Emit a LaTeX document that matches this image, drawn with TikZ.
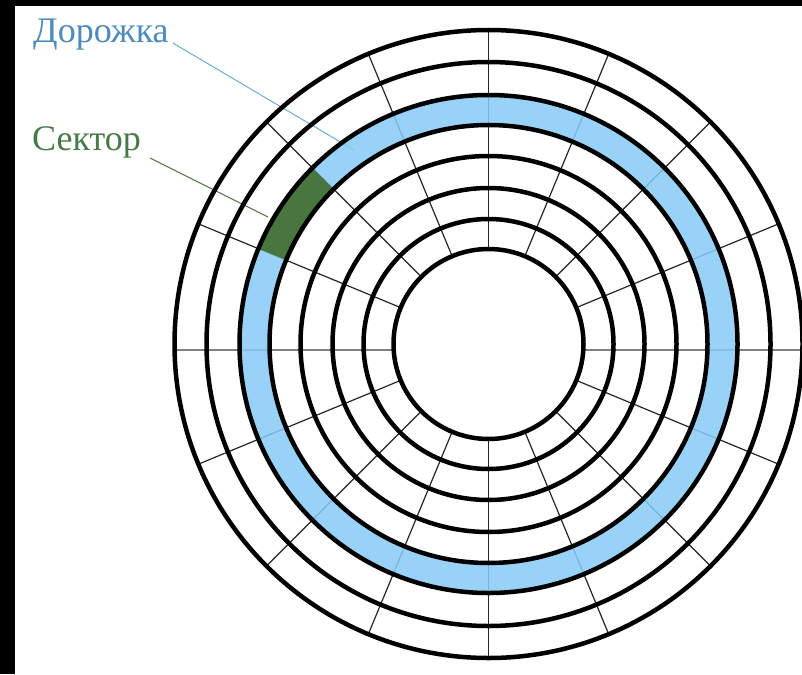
\documentclass[tikz,border=0pt]{standalone}
\usepackage{fontspec}
\setmainfont{Liberation Serif}
\usetikzlibrary{calc}

\definecolor{trackblue}{RGB}{135,203,245}
\definecolor{sectorgreen}{RGB}{72,118,62}
\definecolor{tracktext}{RGB}{78,138,188}
\definecolor{trackline}{RGB}{110,172,212}
\definecolor{sectortext}{RGB}{72,122,72}

\begin{document}
\begin{tikzpicture}[x=1pt, y=1pt,
    ring/.style={line width=4.5pt, black},
    spoke/.style={line width=1.2pt, black!85},
    axisline/.style={line width=2pt, gray},
    disklbl/.style={font=\fontsize{36pt}{42pt}\selectfont, inner sep=0pt, anchor=base west}]

    % Define the frame
    \useasboundingbox (0,0) rectangle (802,-674);
    \fill[black] (0,0) rectangle (802,-674);
    \fill[white] (15,-6) rectangle (802,-674);

    % Define the points
    \coordinate (O) at (488.5,-344);
    \coordinate (trackend) at (354,-150);
    \coordinate (sectorend) at (268,-217);

    % Place the labels
    \node[disklbl, text=tracktext] (tracklbl) at (33,-43) {Дорожка};
    \node[disklbl, text=sectortext] (sectorlbl) at (32,-150) {Сектор};

    % Draw the leader lines
    \draw[trackline, line width=1pt] ([xshift=4pt]tracklbl.base east) -- (trackend);
    \draw[sectorgreen, line width=1pt] ([shift={(9pt,-8pt)}]sectorlbl.base east) -- (sectorend);

    \begin{scope}[shift={(O)}]
    % Draw the sector lines
    \foreach \a in {22.5,45,67.5,90,112.5,135,157.5,202.5,225,247.5,270,292.5,315,337.5}
        \draw[spoke] (\a:95pt) -- (\a:314pt);
    \draw[axisline] (-314,-6) -- (-95,-6);
    \draw[axisline] (95,-6) -- (314,-6);

    % Fill the track and the sector
    \fill[trackblue, fill opacity=0.85, even odd rule] (0,0) circle (249pt) circle (219pt);
    \fill[sectorgreen] (135:219pt) arc (135:157.5:219pt) -- (157.5:249pt) arc (157.5:135:249pt) -- cycle;

    % Draw the tracks
    \foreach \r in {95,125,156,188,219,249,282,314}
        \draw[ring] (0,0) circle (\r pt);
    \end{scope}

\end{tikzpicture}
\end{document}
